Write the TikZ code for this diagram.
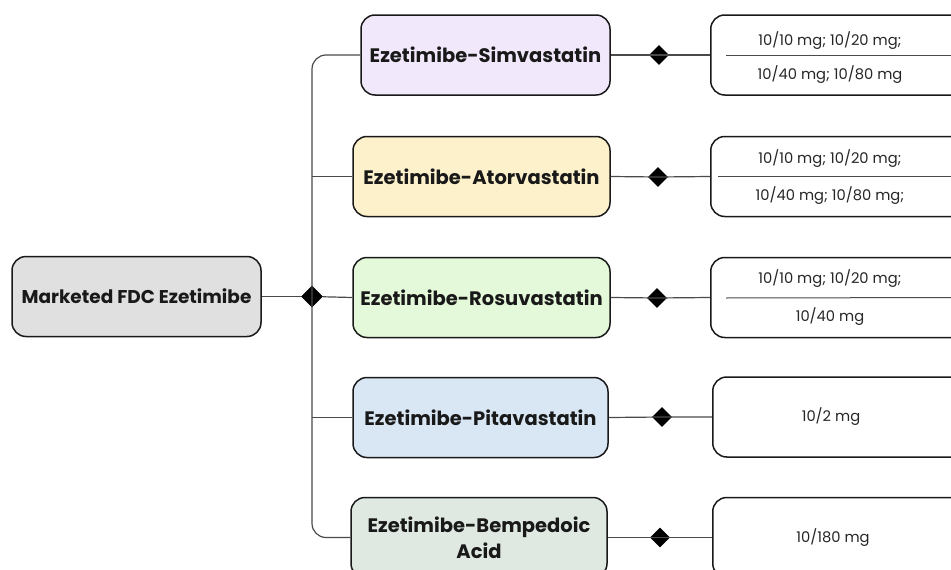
\documentclass[tikz,border=0pt]{standalone}
\usepackage{fontspec}
\setmainfont{Poppins}
\usetikzlibrary{shapes.geometric}
\definecolor{cRoot}{HTML}{E0E0E0}
\definecolor{cA}{HTML}{F2E8FB}
\definecolor{cB}{HTML}{FDF1CC}
\definecolor{cC}{HTML}{E4F9D9}
\definecolor{cD}{HTML}{D9E7F5}
\definecolor{cE}{HTML}{DFE9E1}
\definecolor{cLine}{HTML}{4A4A4A}
\begin{document}
\begin{tikzpicture}[x=1pt,y=-1pt,
  box/.style={draw=black!90, line width=1.5pt, rounded corners=14pt, minimum height=80pt, inner sep=0pt, font=\fontsize{19.5}{26}\selectfont\bfseries, align=center, text=black!90},
  dose/.style={draw=black!90, line width=1.5pt, rounded corners=14pt, minimum height=80pt, minimum width=260pt, inner sep=0pt, anchor=west},
  dtext/.style={font=\fontsize{14.7}{18}\selectfont, text=black!85},
  dia/.style={diamond, fill=black, inner sep=0pt, minimum size=#1},
  conn/.style={draw=cLine, line width=1.2pt}]
\useasboundingbox (0,0) rectangle (951,570);
\clip (0,0) rectangle (951,570);
% root
\node[box, fill=cRoot, minimum width=249pt, font=\fontsize{18.5}{22}\selectfont\bfseries] (root) at (136.5,296.5) {Marketed FDC Ezetimibe};
% branches
\node[box, fill=cA, minimum width=249pt] (b1) at (485.5,55) {Ezetimibe-Simvastatin};
\node[box, fill=cB, minimum width=257pt] (b2) at (481.5,176.5) {Ezetimibe-Atorvastatin};
\node[box, fill=cC, minimum width=257pt] (b3) at (481.5,297.5) {Ezetimibe-Rosuvastatin};
\node[box, fill=cD, minimum width=255pt] (b4) at (480.5,417.5) {Ezetimibe-Pitavastatin};
\node[box, fill=cE, minimum width=256pt] (b5) at (479,537.5) {Ezetimibe-Bempedoic\\Acid};
% central diamond
\node[dia=22pt] (d0) at (312,296.5) {};
% right diamonds
\node[dia=20pt] (dd1) at (659,55) {};
\node[dia=20pt] (dd2) at (658,177) {};
\node[dia=20pt] (dd3) at (657,298) {};
\node[dia=20pt] (dd4) at (662,417) {};
\node[dia=20pt] (dd5) at (660,537.5) {};
% dose boxes
\node[dose] (r1) at (710,55) {};
\node[dose] (r2) at (710,176.5) {};
\node[dose] (r3) at (710,297.5) {};
\node[dose] (r4) at (712,417) {};
\node[dose] (r5) at (712,537.5) {};
\node[dtext] (t1a) at (830,41) {10/10 mg; 10/20 mg;};
\node[dtext] (t1b) at (830,75) {10/40 mg; 10/80 mg};
\node[dtext] (t2a) at (830,159) {10/10 mg; 10/20 mg;};
\node[dtext] (t2b) at (830,196) {10/40 mg; 10/80 mg;};
\node[dtext] (t3a) at (830,279) {10/10 mg; 10/20 mg;};
\node[dtext] (t3b) at (830,317) {10/40 mg};
\node[dtext] (t4) at (831,417) {10/2 mg};
\node[dtext] (t5) at (833,537.5) {10/180 mg};
% dividers
\draw[conn, line width=1pt] ([xshift=16pt]r1.west) -- (r1.east);
\draw[conn, line width=1pt] ([xshift=8pt]r2.west |- 0,176.5) -- (r2.east);
\draw[conn, line width=1pt] ([xshift=16pt]r3.west |- 0,298) -- (r3.east);
% trunk
\draw[conn, rounded corners=14pt] (b1.west) -| (d0.center) |- (b5.west);
\draw[conn] (root.east) -- (d0);
\draw[conn] (d0.center |- b2.west) -- (b2.west);
\draw[conn] (d0) -- (b3.west);
\draw[conn] (d0.center |- b4.west) -- (b4.west);
% right connectors
\foreach \i in {1,...,5}{
  \draw[conn] (b\i.east) -- (dd\i.center) -- (r\i.west);
}
\end{tikzpicture}
\end{document}
